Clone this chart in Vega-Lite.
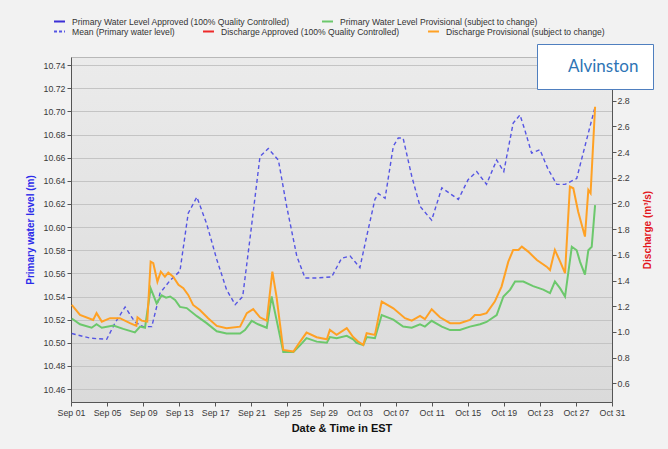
{
  "$schema": "https://vega.github.io/schema/vega-lite/v6.json",
  "width": 541,
  "height": 345,
  "autosize": {"type": "none"},
  "padding": {"left": 71, "top": 57, "right": 56, "bottom": 47},
  "background": "#f2f2f2",
  "config": {
    "font": "Liberation Sans",
    "view": {
      "fill": {"gradient": "linear", "x1": 0, "y1": 0, "x2": 0, "y2": 1, "stops": [{"offset": 0, "color": "#ebebeb"}, {"offset": 1, "color": "#dadada"}]},
      "stroke": "#b8b8b8"
    },
    "axis": {
      "labelFont": "Liberation Sans",
      "labelFontSize": 8.8,
      "labelColor": "#3a3a3a",
      "tickColor": "#555555",
      "domainColor": "#555555",
      "tickSize": 4,
      "titleFont": "Liberation Sans",
      "titleFontWeight": "bold"
    },
    "axisX": {"labelOverlap": false, "labelFlush": false},
    "legend": {
      "labelFont": "Liberation Sans",
      "labelFontSize": 8.6,
      "labelColor": "#333333",
      "labelLimit": 400
    }
  },
  "datasets": {
    "mean": [
      {"t": "2016-09-01T02:00", "level": 10.508},
      {"t": "2016-09-03T03:00", "level": 10.504},
      {"t": "2016-09-04T23:00", "level": 10.503},
      {"t": "2016-09-05T21:00", "level": 10.517},
      {"t": "2016-09-07T00:00", "level": 10.531},
      {"t": "2016-09-08T02:00", "level": 10.518},
      {"t": "2016-09-09T00:00", "level": 10.514},
      {"t": "2016-09-09T23:00", "level": 10.514},
      {"t": "2016-09-10T21:00", "level": 10.543},
      {"t": "2016-09-12T00:00", "level": 10.554},
      {"t": "2016-09-13T02:00", "level": 10.562},
      {"t": "2016-09-14T00:00", "level": 10.612},
      {"t": "2016-09-14T23:00", "level": 10.626},
      {"t": "2016-09-16T01:00", "level": 10.603},
      {"t": "2016-09-17T04:00", "level": 10.572},
      {"t": "2016-09-18T06:00", "level": 10.546},
      {"t": "2016-09-19T05:00", "level": 10.533},
      {"t": "2016-09-20T01:00", "level": 10.540},
      {"t": "2016-09-20T20:00", "level": 10.589},
      {"t": "2016-09-21T23:00", "level": 10.661},
      {"t": "2016-09-22T21:00", "level": 10.668},
      {"t": "2016-09-24T00:00", "level": 10.658},
      {"t": "2016-09-24T22:00", "level": 10.618},
      {"t": "2016-09-26T01:00", "level": 10.575},
      {"t": "2016-09-26T23:00", "level": 10.556},
      {"t": "2016-09-28T06:00", "level": 10.556},
      {"t": "2016-09-29T22:00", "level": 10.557},
      {"t": "2016-10-01T00:00", "level": 10.573},
      {"t": "2016-10-01T23:00", "level": 10.575},
      {"t": "2016-10-02T12:00", "level": 10.570},
      {"t": "2016-10-03T01:00", "level": 10.565},
      {"t": "2016-10-03T19:00", "level": 10.592},
      {"t": "2016-10-04T17:00", "level": 10.624},
      {"t": "2016-10-05T02:00", "level": 10.629},
      {"t": "2016-10-05T20:00", "level": 10.625},
      {"t": "2016-10-06T18:00", "level": 10.670},
      {"t": "2016-10-07T07:00", "level": 10.677},
      {"t": "2016-10-07T20:00", "level": 10.677},
      {"t": "2016-10-08T19:00", "level": 10.644},
      {"t": "2016-10-09T17:00", "level": 10.618},
      {"t": "2016-10-11T00:00", "level": 10.606},
      {"t": "2016-10-12T03:00", "level": 10.634},
      {"t": "2016-10-13T01:00", "level": 10.629},
      {"t": "2016-10-13T23:00", "level": 10.624},
      {"t": "2016-10-15T01:00", "level": 10.641},
      {"t": "2016-10-16T00:00", "level": 10.648},
      {"t": "2016-10-17T02:00", "level": 10.637},
      {"t": "2016-10-18T05:00", "level": 10.658},
      {"t": "2016-10-19T00:00", "level": 10.648},
      {"t": "2016-10-20T01:00", "level": 10.690},
      {"t": "2016-10-20T19:00", "level": 10.697},
      {"t": "2016-10-21T08:00", "level": 10.684},
      {"t": "2016-10-22T02:00", "level": 10.664},
      {"t": "2016-10-23T00:00", "level": 10.667},
      {"t": "2016-10-23T22:00", "level": 10.650},
      {"t": "2016-10-24T21:00", "level": 10.637},
      {"t": "2016-10-25T19:00", "level": 10.637},
      {"t": "2016-10-27T02:00", "level": 10.642},
      {"t": "2016-10-28T00:00", "level": 10.670},
      {"t": "2016-10-29T03:00", "level": 10.704}
    ],
    "level": [
      {"t": "2016-09-01T02:00", "level": 10.521},
      {"t": "2016-09-02T00:00", "level": 10.516},
      {"t": "2016-09-03T07:00", "level": 10.513},
      {"t": "2016-09-03T20:00", "level": 10.516},
      {"t": "2016-09-04T10:00", "level": 10.513},
      {"t": "2016-09-05T17:00", "level": 10.515},
      {"t": "2016-09-06T19:00", "level": 10.512},
      {"t": "2016-09-08T02:00", "level": 10.509},
      {"t": "2016-09-08T16:00", "level": 10.514},
      {"t": "2016-09-09T05:00", "level": 10.513},
      {"t": "2016-09-09T20:00", "level": 10.547},
      {"t": "2016-09-10T12:00", "level": 10.534},
      {"t": "2016-09-11T01:00", "level": 10.541},
      {"t": "2016-09-11T13:00", "level": 10.539},
      {"t": "2016-09-12T00:00", "level": 10.540},
      {"t": "2016-09-12T13:00", "level": 10.537},
      {"t": "2016-09-13T02:00", "level": 10.531},
      {"t": "2016-09-13T20:00", "level": 10.530},
      {"t": "2016-09-14T23:00", "level": 10.523},
      {"t": "2016-09-16T01:00", "level": 10.517},
      {"t": "2016-09-17T04:00", "level": 10.510},
      {"t": "2016-09-18T06:00", "level": 10.508},
      {"t": "2016-09-19T18:00", "level": 10.508},
      {"t": "2016-09-20T07:00", "level": 10.511},
      {"t": "2016-09-21T01:00", "level": 10.519},
      {"t": "2016-09-21T18:00", "level": 10.516},
      {"t": "2016-09-22T17:00", "level": 10.513},
      {"t": "2016-09-23T06:00", "level": 10.540},
      {"t": "2016-09-23T19:00", "level": 10.520},
      {"t": "2016-09-24T13:00", "level": 10.492},
      {"t": "2016-09-25T16:00", "level": 10.492},
      {"t": "2016-09-26T10:00", "level": 10.498},
      {"t": "2016-09-27T03:00", "level": 10.504},
      {"t": "2016-09-28T06:00", "level": 10.501},
      {"t": "2016-09-29T09:00", "level": 10.500},
      {"t": "2016-09-29T17:00", "level": 10.505},
      {"t": "2016-09-30T11:00", "level": 10.504},
      {"t": "2016-10-01T14:00", "level": 10.506},
      {"t": "2016-10-02T07:00", "level": 10.503},
      {"t": "2016-10-02T16:00", "level": 10.500},
      {"t": "2016-10-03T10:00", "level": 10.498},
      {"t": "2016-10-03T19:00", "level": 10.505},
      {"t": "2016-10-04T17:00", "level": 10.504},
      {"t": "2016-10-05T11:00", "level": 10.524},
      {"t": "2016-10-06T18:00", "level": 10.520},
      {"t": "2016-10-07T20:00", "level": 10.514},
      {"t": "2016-10-08T19:00", "level": 10.513},
      {"t": "2016-10-09T17:00", "level": 10.516},
      {"t": "2016-10-10T06:00", "level": 10.514},
      {"t": "2016-10-11T00:00", "level": 10.519},
      {"t": "2016-10-12T03:00", "level": 10.514},
      {"t": "2016-10-13T01:00", "level": 10.511},
      {"t": "2016-10-14T03:00", "level": 10.511},
      {"t": "2016-10-15T06:00", "level": 10.514},
      {"t": "2016-10-16T09:00", "level": 10.516},
      {"t": "2016-10-17T02:00", "level": 10.518},
      {"t": "2016-10-18T05:00", "level": 10.524},
      {"t": "2016-10-18T23:00", "level": 10.540},
      {"t": "2016-10-19T17:00", "level": 10.546},
      {"t": "2016-10-20T06:00", "level": 10.553},
      {"t": "2016-10-21T04:00", "level": 10.553},
      {"t": "2016-10-22T06:00", "level": 10.549},
      {"t": "2016-10-23T09:00", "level": 10.546},
      {"t": "2016-10-24T03:00", "level": 10.543},
      {"t": "2016-10-24T16:00", "level": 10.553},
      {"t": "2016-10-25T06:00", "level": 10.547},
      {"t": "2016-10-25T19:00", "level": 10.540},
      {"t": "2016-10-26T13:00", "level": 10.583},
      {"t": "2016-10-27T02:00", "level": 10.580},
      {"t": "2016-10-27T11:00", "level": 10.570},
      {"t": "2016-10-28T00:00", "level": 10.559},
      {"t": "2016-10-28T09:00", "level": 10.580},
      {"t": "2016-10-28T18:00", "level": 10.583},
      {"t": "2016-10-29T03:00", "level": 10.619}
    ],
    "discharge": [
      {"t": "2016-09-01T02:00", "discharge": 1.210},
      {"t": "2016-09-02T00:00", "discharge": 1.132},
      {"t": "2016-09-03T11:00", "discharge": 1.093},
      {"t": "2016-09-03T20:00", "discharge": 1.146},
      {"t": "2016-09-04T10:00", "discharge": 1.080},
      {"t": "2016-09-05T08:00", "discharge": 1.107},
      {"t": "2016-09-06T10:00", "discharge": 1.107},
      {"t": "2016-09-07T13:00", "discharge": 1.068},
      {"t": "2016-09-08T06:00", "discharge": 1.047},
      {"t": "2016-09-08T09:00", "discharge": 1.114},
      {"t": "2016-09-08T20:00", "discharge": 1.088},
      {"t": "2016-09-09T11:00", "discharge": 1.080},
      {"t": "2016-09-09T20:00", "discharge": 1.547},
      {"t": "2016-09-10T03:00", "discharge": 1.535},
      {"t": "2016-09-10T14:00", "discharge": 1.391},
      {"t": "2016-09-10T23:00", "discharge": 1.469},
      {"t": "2016-09-11T10:00", "discharge": 1.430},
      {"t": "2016-09-11T19:00", "discharge": 1.461},
      {"t": "2016-09-12T08:00", "discharge": 1.430},
      {"t": "2016-09-12T22:00", "discharge": 1.366},
      {"t": "2016-09-13T11:00", "discharge": 1.340},
      {"t": "2016-09-14T00:00", "discharge": 1.288},
      {"t": "2016-09-14T13:00", "discharge": 1.210},
      {"t": "2016-09-15T07:00", "discharge": 1.171},
      {"t": "2016-09-16T05:00", "discharge": 1.107},
      {"t": "2016-09-17T04:00", "discharge": 1.047},
      {"t": "2016-09-18T06:00", "discharge": 1.029},
      {"t": "2016-09-19T18:00", "discharge": 1.041},
      {"t": "2016-09-20T12:00", "discharge": 1.146},
      {"t": "2016-09-21T05:00", "discharge": 1.177},
      {"t": "2016-09-21T23:00", "discharge": 1.114},
      {"t": "2016-09-22T17:00", "discharge": 1.088},
      {"t": "2016-09-23T08:00", "discharge": 1.469},
      {"t": "2016-09-23T19:00", "discharge": 1.275},
      {"t": "2016-09-24T13:00", "discharge": 0.860},
      {"t": "2016-09-25T16:00", "discharge": 0.847},
      {"t": "2016-09-26T10:00", "discharge": 0.925},
      {"t": "2016-09-27T03:00", "discharge": 0.995},
      {"t": "2016-09-28T06:00", "discharge": 0.959},
      {"t": "2016-09-29T09:00", "discharge": 0.943},
      {"t": "2016-09-29T17:00", "discharge": 1.016},
      {"t": "2016-09-30T11:00", "discharge": 0.977},
      {"t": "2016-10-01T14:00", "discharge": 1.029},
      {"t": "2016-10-02T07:00", "discharge": 0.960},
      {"t": "2016-10-02T20:00", "discharge": 0.925},
      {"t": "2016-10-03T10:00", "discharge": 0.899},
      {"t": "2016-10-03T19:00", "discharge": 0.990},
      {"t": "2016-10-04T17:00", "discharge": 0.977},
      {"t": "2016-10-05T11:00", "discharge": 1.236},
      {"t": "2016-10-06T18:00", "discharge": 1.184},
      {"t": "2016-10-08T01:00", "discharge": 1.107},
      {"t": "2016-10-08T19:00", "discharge": 1.088},
      {"t": "2016-10-09T17:00", "discharge": 1.124},
      {"t": "2016-10-10T06:00", "discharge": 1.099},
      {"t": "2016-10-11T00:00", "discharge": 1.177},
      {"t": "2016-10-11T22:00", "discharge": 1.114},
      {"t": "2016-10-13T01:00", "discharge": 1.068},
      {"t": "2016-10-14T03:00", "discharge": 1.068},
      {"t": "2016-10-15T06:00", "discharge": 1.093},
      {"t": "2016-10-15T19:00", "discharge": 1.132},
      {"t": "2016-10-16T09:00", "discharge": 1.132},
      {"t": "2016-10-17T02:00", "discharge": 1.146},
      {"t": "2016-10-18T00:00", "discharge": 1.236},
      {"t": "2016-10-18T18:00", "discharge": 1.353},
      {"t": "2016-10-19T12:00", "discharge": 1.547},
      {"t": "2016-10-20T01:00", "discharge": 1.638},
      {"t": "2016-10-20T15:00", "discharge": 1.638},
      {"t": "2016-10-21T00:00", "discharge": 1.664},
      {"t": "2016-10-21T17:00", "discharge": 1.625},
      {"t": "2016-10-22T16:00", "discharge": 1.560},
      {"t": "2016-10-23T18:00", "discharge": 1.508},
      {"t": "2016-10-24T03:00", "discharge": 1.482},
      {"t": "2016-10-24T16:00", "discharge": 1.638},
      {"t": "2016-10-25T06:00", "discharge": 1.547},
      {"t": "2016-10-25T19:00", "discharge": 1.457},
      {"t": "2016-10-26T08:00", "discharge": 2.131},
      {"t": "2016-10-26T17:00", "discharge": 2.118},
      {"t": "2016-10-27T06:00", "discharge": 1.936},
      {"t": "2016-10-28T00:00", "discharge": 1.742},
      {"t": "2016-10-28T09:00", "discharge": 2.105},
      {"t": "2016-10-28T15:00", "discharge": 2.079},
      {"t": "2016-10-29T03:00", "discharge": 2.753}
    ]
  },
  "encoding": {
    "x": {
      "field": "t",
      "type": "temporal",
      "scale": {"domain": [{"year": 2016, "month": 9, "date": 1}, {"year": 2016, "month": 10, "date": 31}]},
      "axis": {
        "title": "Date & Time in EST",
        "titleFontSize": 11,
        "titleColor": "#111111",
        "titlePadding": 6,
        "format": "%b %d",
        "grid": false,
        "labelFlush": false,
        "labelOverlap": false,
        "labelPadding": 2,
        "values": [
          {"year": 2016, "month": 9, "date": 1},
          {"year": 2016, "month": 9, "date": 5},
          {"year": 2016, "month": 9, "date": 9},
          {"year": 2016, "month": 9, "date": 13},
          {"year": 2016, "month": 9, "date": 17},
          {"year": 2016, "month": 9, "date": 21},
          {"year": 2016, "month": 9, "date": 25},
          {"year": 2016, "month": 9, "date": 29},
          {"year": 2016, "month": 10, "date": 3},
          {"year": 2016, "month": 10, "date": 7},
          {"year": 2016, "month": 10, "date": 11},
          {"year": 2016, "month": 10, "date": 15},
          {"year": 2016, "month": 10, "date": 19},
          {"year": 2016, "month": 10, "date": 23},
          {"year": 2016, "month": 10, "date": 27},
          {"year": 2016, "month": 10, "date": 31}
        ]
      }
    }
  },
  "layer": [
    {
      "data": {"name": "mean"},
      "mark": {"type": "line", "strokeDash": [4, 3], "strokeWidth": 1.4},
      "encoding": {
        "y": {
          "field": "level",
          "type": "quantitative",
          "scale": {"domain": [10.4488, 10.7471], "nice": false, "zero": false},
          "axis": {
            "title": "Primary water level (m)",
            "titleColor": "#2b2bea",
            "titleFontSize": 10,
            "titlePadding": 7,
            "format": ".2f",
            "grid": true,
            "gridColor": "#c4c4c4",
            "labelPadding": 2,
            "values": [10.46, 10.48, 10.5, 10.52, 10.54, 10.56, 10.58, 10.6, 10.62, 10.64, 10.66, 10.68, 10.7, 10.72, 10.74]
          }
        },
        "stroke": {
          "datum": "Mean (Primary water level)",
          "type": "nominal",
          "scale": {
            "domain": ["Mean (Primary water level)", "Discharge Approved (100% Quality Controlled)", "Discharge Provisional (subject to change)"],
            "range": ["#5555e3", "#ee2a2a", "#ffa124"]
          },
          "legend": {
            "orient": "none",
            "legendX": -18,
            "legendY": -32,
            "direction": "horizontal",
            "gridAlign": "none",
            "title": null,
            "padding": 0,
            "columnPadding": 24,
            "symbolType": "stroke",
            "symbolSize": 120,
            "symbolStrokeWidth": 2,
            "labelOffset": 6,
            "encode": {
              "symbols": {
                "update": {
                  "strokeDash": {"signal": "datum.value === 'Mean (Primary water level)' ? [3, 2] : [1, 0]"}
                }
              }
            }
          }
        }
      }
    },
    {
      "data": {"name": "level"},
      "mark": {"type": "line", "strokeWidth": 2},
      "encoding": {
        "y": {
          "field": "level",
          "type": "quantitative",
          "scale": {"domain": [10.4488, 10.7471], "nice": false, "zero": false},
          "axis": null
        },
        "color": {
          "datum": "Primary Water Level Provisional (subject to change)",
          "type": "nominal",
          "scale": {
            "domain": ["Primary Water Level Approved (100% Quality Controlled)", "Primary Water Level Provisional (subject to change)"],
            "range": ["#3b2fd6", "#6cc86c"]
          },
          "legend": {
            "orient": "none",
            "legendX": -18,
            "legendY": -42,
            "direction": "horizontal",
            "gridAlign": "none",
            "title": null,
            "padding": 0,
            "columnPadding": 28,
            "symbolType": "stroke",
            "symbolSize": 120,
            "symbolStrokeWidth": 2,
            "labelOffset": 6
          }
        }
      }
    },
    {
      "data": {"name": "discharge"},
      "mark": {"type": "line"},
      "encoding": {
        "y": {
          "field": "discharge",
          "type": "quantitative",
          "scale": {"domain": [0.4545, 3.14], "nice": false, "zero": false},
          "axis": {
            "orient": "right",
            "title": "Discharge (m³/s)",
            "titleColor": "#e3161e",
            "titleFontSize": 10,
            "titleAngle": 270,
            "titleBaseline": "top",
            "titlePadding": 13,
            "format": ".1f",
            "grid": false,
            "labelPadding": 1,
            "values": [0.6, 0.8, 1.0, 1.2, 1.4, 1.6, 1.8, 2.0, 2.2, 2.4, 2.6, 2.8]
          }
        },
        "stroke": {"datum": "Discharge Provisional (subject to change)", "type": "nominal"},
        "strokeWidth": {
          "datum": "Alvinston",
          "type": "nominal",
          "scale": {"type": "ordinal", "domain": ["Alvinston"], "range": [2]},
          "legend": {
            "orient": "none",
            "legendX": 466,
            "legendY": -13,
            "title": null,
            "padding": 14,
            "fillColor": "#ffffff",
            "strokeColor": "#4f7fbf",
            "labelFont": "Lato",
            "labelFontSize": 17,
            "labelColor": "#2e74b5",
            "symbolSize": 0,
            "symbolOpacity": 0,
            "labelOffset": 0,
            "encode": {
              "legend": {"update": {"strokeWidth": {"value": 3}}},
              "symbols": {"update": {"opacity": {"value": 0}}}
            }
          }
        }
      }
    }
  ],
  "resolve": {"scale": {"y": "independent"}}
}
